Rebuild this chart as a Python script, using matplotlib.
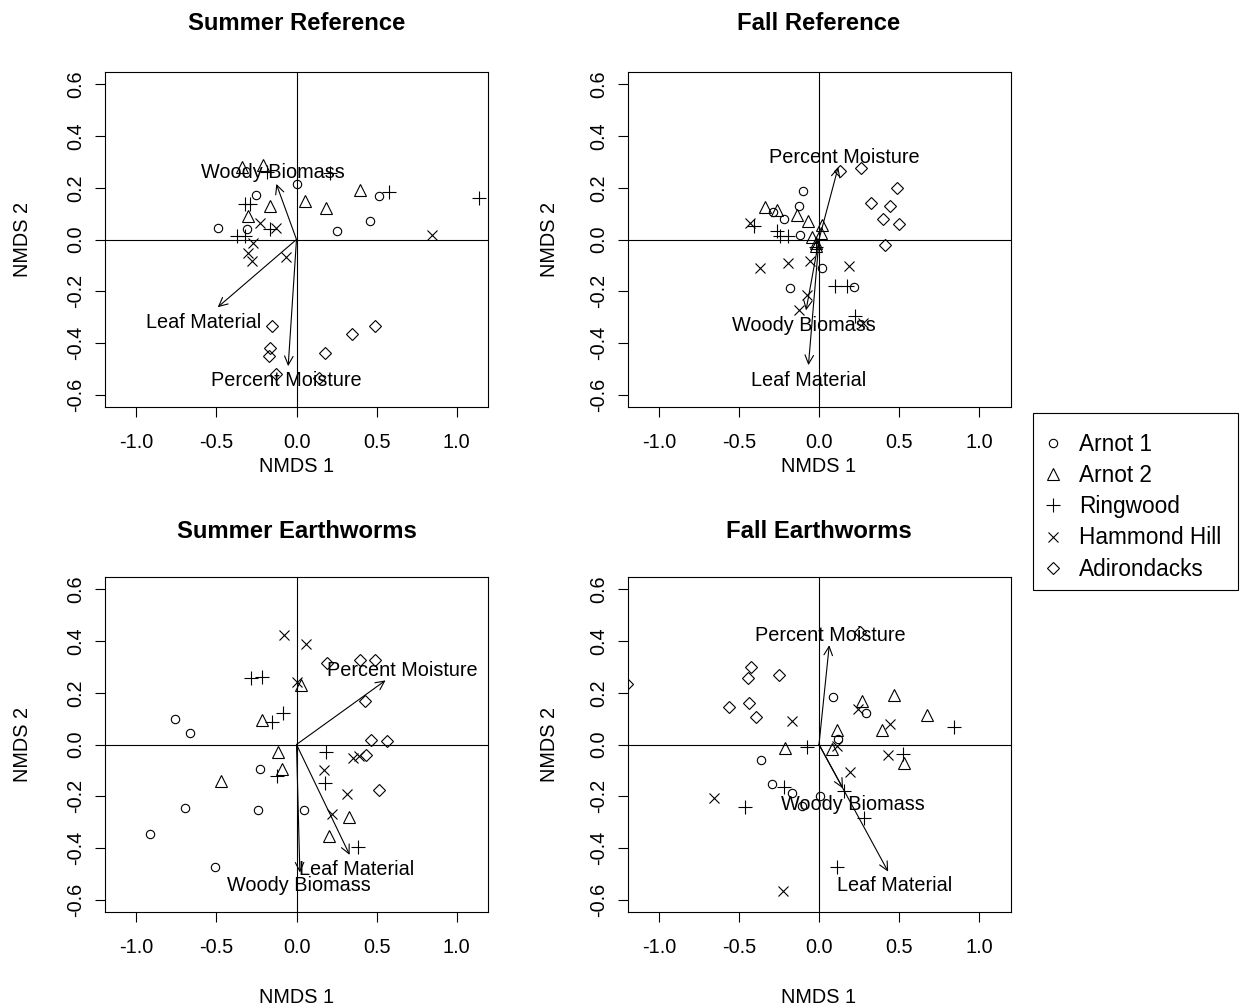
import numpy as np
import matplotlib
matplotlib.use("Agg")
import matplotlib.pyplot as plt
from matplotlib.lines import Line2D
from matplotlib.patches import Rectangle

plt.rcParams['font.family'] = ['Liberation Sans', 'DejaVu Sans']
plt.rcParams['axes.unicode_minus'] = False

# site names and the R point symbols they use
sites = ["Arnot 1", "Arnot 2", "Ringwood", "Hammond Hill", "Adirondacks"]
markers = ["o", "^", "+", "x", "D"]
msizes = [6.0, 9.0, 10.0, 7.2, 6.5]

# --- Summer Reference ---
sr_arnot1 = [(-0.49, 0.045), (-0.25, 0.174), (0.00, 0.213), (-0.31, 0.039),
             (0.255, 0.032), (0.46, 0.07), (0.515, 0.168)]
sr_arnot2 = [(-0.341, 0.28), (-0.21, 0.287), (-0.164, 0.129), (-0.306, 0.09),
             (0.054, 0.148), (0.186, 0.122), (0.397, 0.191)]
sr_ringwood = [(-0.32, 0.138), (-0.29, 0.138), (-0.164, 0.039), (-0.373, 0.013),
               (-0.321, 0.013), (-0.185, 0.262), (0.211, 0.258), (0.577, 0.184),
               (1.14, 0.159)]
sr_hammond = [(-0.227, 0.064), (-0.127, 0.045), (-0.27, -0.013), (-0.30, -0.052),
              (-0.276, -0.084), (-0.065, -0.068), (0.847, 0.019)]
sr_adk = [(-0.151, -0.335), (-0.165, -0.421), (-0.172, -0.451), (-0.125, -0.522),
          (0.18, -0.438), (0.347, -0.367), (0.49, -0.335), (0.138, -0.535)]

# --- Fall Reference ---
fr_arnot1 = [(-0.101, 0.187), (-0.124, 0.131), (-0.29, 0.107), (-0.221, 0.081),
             (-0.118, 0.017), (0.017, -0.112), (-0.18, -0.187), (0.219, -0.183)]
fr_arnot2 = [(-0.335, 0.125), (-0.263, 0.116), (-0.138, 0.094), (-0.07, 0.071),
             (0.021, 0.058), (0.012, 0.026), (-0.045, 0.009), (-0.019, -0.014),
             (-0.019, -0.026)]
fr_ringwood = [(-0.408, 0.051), (-0.263, 0.032), (-0.242, 0.013), (-0.191, 0.013),
               (-0.02, -0.03), (0.099, -0.178), (0.172, -0.178), (0.224, -0.296)]
fr_hammond = [(-0.429, 0.064), (-0.366, -0.112), (-0.191, -0.09), (-0.056, -0.084),
              (0.188, -0.103), (-0.077, -0.213), (-0.124, -0.273), (0.275, -0.322)]
fr_adk = [(0.13, 0.264), (0.261, 0.277), (0.489, 0.2), (0.323, 0.142),
          (0.443, 0.129), (0.402, 0.081), (0.497, 0.061), (0.41, -0.023)]

# --- Summer Earthworms ---
se_arnot1 = [(-0.761, 0.1), (-0.666, 0.044), (-0.228, -0.094), (-0.695, -0.247),
             (-0.239, -0.252), (0.046, -0.252), (-0.917, -0.347), (-0.512, -0.473)]
se_arnot2 = [(0.031, 0.229), (-0.214, 0.096), (-0.118, -0.03), (-0.093, -0.094),
             (-0.473, -0.14), (0.326, -0.282), (0.201, -0.353)]
se_ringwood = [(-0.286, 0.257), (-0.214, 0.261), (-0.083, 0.123), (-0.151, 0.087),
               (0.183, -0.03), (0.18, -0.149), (-0.12, -0.12), (0.384, -0.398)]
se_hammond = [(-0.079, 0.423), (0.058, 0.387), (0.006, 0.242), (0.17, -0.097),
              (0.35, -0.052), (0.39, -0.045), (0.317, -0.191), (0.222, -0.269)]
se_adk = [(0.191, 0.316), (0.394, 0.326), (0.492, 0.326), (0.425, 0.167),
          (0.467, 0.019), (0.566, 0.012), (0.436, -0.039), (0.515, -0.175)]

# --- Fall Earthworms ---
fe_arnot1 = [(0.087, 0.184), (0.293, 0.123), (0.12, 0.022), (-0.363, -0.06),
             (-0.295, -0.153), (-0.17, -0.186), (0.006, -0.201), (-0.107, -0.238)]
fe_arnot2 = [(-0.215, -0.012), (0.079, -0.017), (0.114, 0.057), (0.27, 0.168),
             (0.469, 0.19), (0.674, 0.116), (0.396, 0.057), (0.532, -0.073)]
fe_ringwood = [(-0.073, -0.011), (-0.221, -0.166), (-0.465, -0.243), (0.155, -0.178),
               (0.279, -0.286), (0.114, -0.473), (0.524, -0.036), (0.846, 0.067)]
fe_hammond = [(-0.166, 0.091), (0.241, 0.136), (0.442, 0.08), (0.429, -0.04),
              (0.11, -0.004), (0.193, -0.106), (-0.658, -0.207), (-0.222, -0.567)]
fe_adk = [(-1.197, 0.235), (-0.425, 0.3), (-0.444, 0.257), (-0.247, 0.27),
          (-0.56, 0.145), (-0.44, 0.162), (-0.392, 0.106), (0.259, 0.436)]

# envfit arrows: name, arrow tip, label position
vec_names = ["Woody Biomass", "Leaf Material", "Percent Moisture"]
sr_tips = [(-0.126, 0.215), (-0.492, -0.262), (-0.052, -0.49)]
sr_labs = [(-0.146, 0.258), (-0.58, -0.32), (-0.061, -0.545)]
fr_tips = [(-0.081, -0.274), (-0.066, -0.486), (0.12, 0.28)]
fr_labs = [(-0.093, -0.332), (-0.066, -0.545), (0.157, 0.318)]
se_tips = [(0.021, -0.495), (0.332, -0.427), (0.556, 0.248)]
se_labs = [(0.017, -0.545), (0.376, -0.485), (0.662, 0.285)]
fe_tips = [(0.15, -0.17), (0.432, -0.492), (0.064, 0.384)]
fe_labs = [(0.21, -0.234), (0.473, -0.547), (0.069, 0.423)]

panels = [
    ("Summer Reference", [sr_arnot1, sr_arnot2, sr_ringwood, sr_hammond, sr_adk], sr_tips, sr_labs),
    ("Fall Reference", [fr_arnot1, fr_arnot2, fr_ringwood, fr_hammond, fr_adk], fr_tips, fr_labs),
    ("Summer Earthworms", [se_arnot1, se_arnot2, se_ringwood, se_hammond, se_adk], se_tips, se_labs),
    ("Fall Earthworms", [fe_arnot1, fe_arnot2, fe_ringwood, fe_hammond, fe_adk], fe_tips, fe_labs),
]

fs = 14.3
fig = plt.figure(figsize=(12.41, 10.08), dpi=100)
W, H = 1241.0, 1008.0
lefts = [105, 627.5]
tops = [72, 577]
aw, ah = 383, 335

for k, (title, groups, tips, labs) in enumerate(panels):
    r, c = divmod(k, 2)
    ax = fig.add_axes([lefts[c] / W, 1 - (tops[r] + ah) / H, aw / W, ah / H])
    ax.axhline(0, color="black", lw=0.8)
    ax.axvline(0, color="black", lw=0.8)
    for pts, m, ms in zip(groups, markers, msizes):
        p = np.array(pts)
        ax.plot(p[:, 0], p[:, 1], linestyle="none", marker=m, ms=ms,
                mfc="none", mec="black", mew=0.8)
    for name, tip, lab in zip(vec_names, tips, labs):
        ax.annotate("", xy=tip, xytext=(0, 0),
                    arrowprops=dict(arrowstyle="->,head_length=0.45,head_width=0.22",
                                    color="black", lw=0.8, shrinkA=0, shrinkB=0,
                                    mutation_scale=14))
        ax.text(lab[0], lab[1], name, ha="center", va="center", fontsize=fs)
    ax.set_xlim(-1.196, 1.196)
    ax.set_ylim(-0.648, 0.648)
    ax.set_xticks([-1.0, -0.5, 0.0, 0.5, 1.0])
    ax.set_xticklabels(["-1.0", "-0.5", "0.0", "0.5", "1.0"])
    ax.set_yticks([-0.6, -0.4, -0.2, 0.0, 0.2, 0.4, 0.6])
    ax.set_yticklabels(["-0.6", "-0.4", "-0.2", "0.0", "0.2", "0.4", "0.6"],
                       rotation=90, va="center")
    ax.tick_params(axis="both", length=7, width=0.8, labelsize=fs)
    ax.tick_params(axis="x", pad=12)
    ax.tick_params(axis="y", pad=7)
    for s in ax.spines.values():
        s.set_linewidth(0.8)
    ax.set_xlabel("NMDS 1", fontsize=fs)
    ax.set_ylabel("NMDS 2", fontsize=fs)
    ax.xaxis.set_label_coords(0.5, -0.149 if r == 0 else -0.227)
    ax.yaxis.set_label_coords(-0.191 if c == 0 else -0.179, 0.5)
    ax.text(0.5, 1 + (48 if r == 0 else 45) / ah, title, transform=ax.transAxes,
            ha="center", va="center", fontsize=17.2, fontweight="bold")

# legend outside the panels, with a square R-style box
handles = [Line2D([], [], linestyle="none", marker=m, ms=ms, mfc="none",
                  mec="black", mew=0.8) for m, ms in zip(markers, msizes)]
leg = fig.legend(handles, sites, loc="upper left",
                 bbox_to_anchor=(1041.7 / W, 1 - 433 / H),
                 fontsize=16.3, frameon=False, borderaxespad=0, borderpad=0,
                 labelspacing=0.36, handlelength=1.0, handletextpad=0.66)
fig.add_artist(Rectangle((1033 / W, 1 - 590 / H), 205 / W, 177 / H,
                         transform=fig.transFigure, fill=False,
                         edgecolor="black", lw=0.8))

fig.savefig("out.png", dpi=100)
